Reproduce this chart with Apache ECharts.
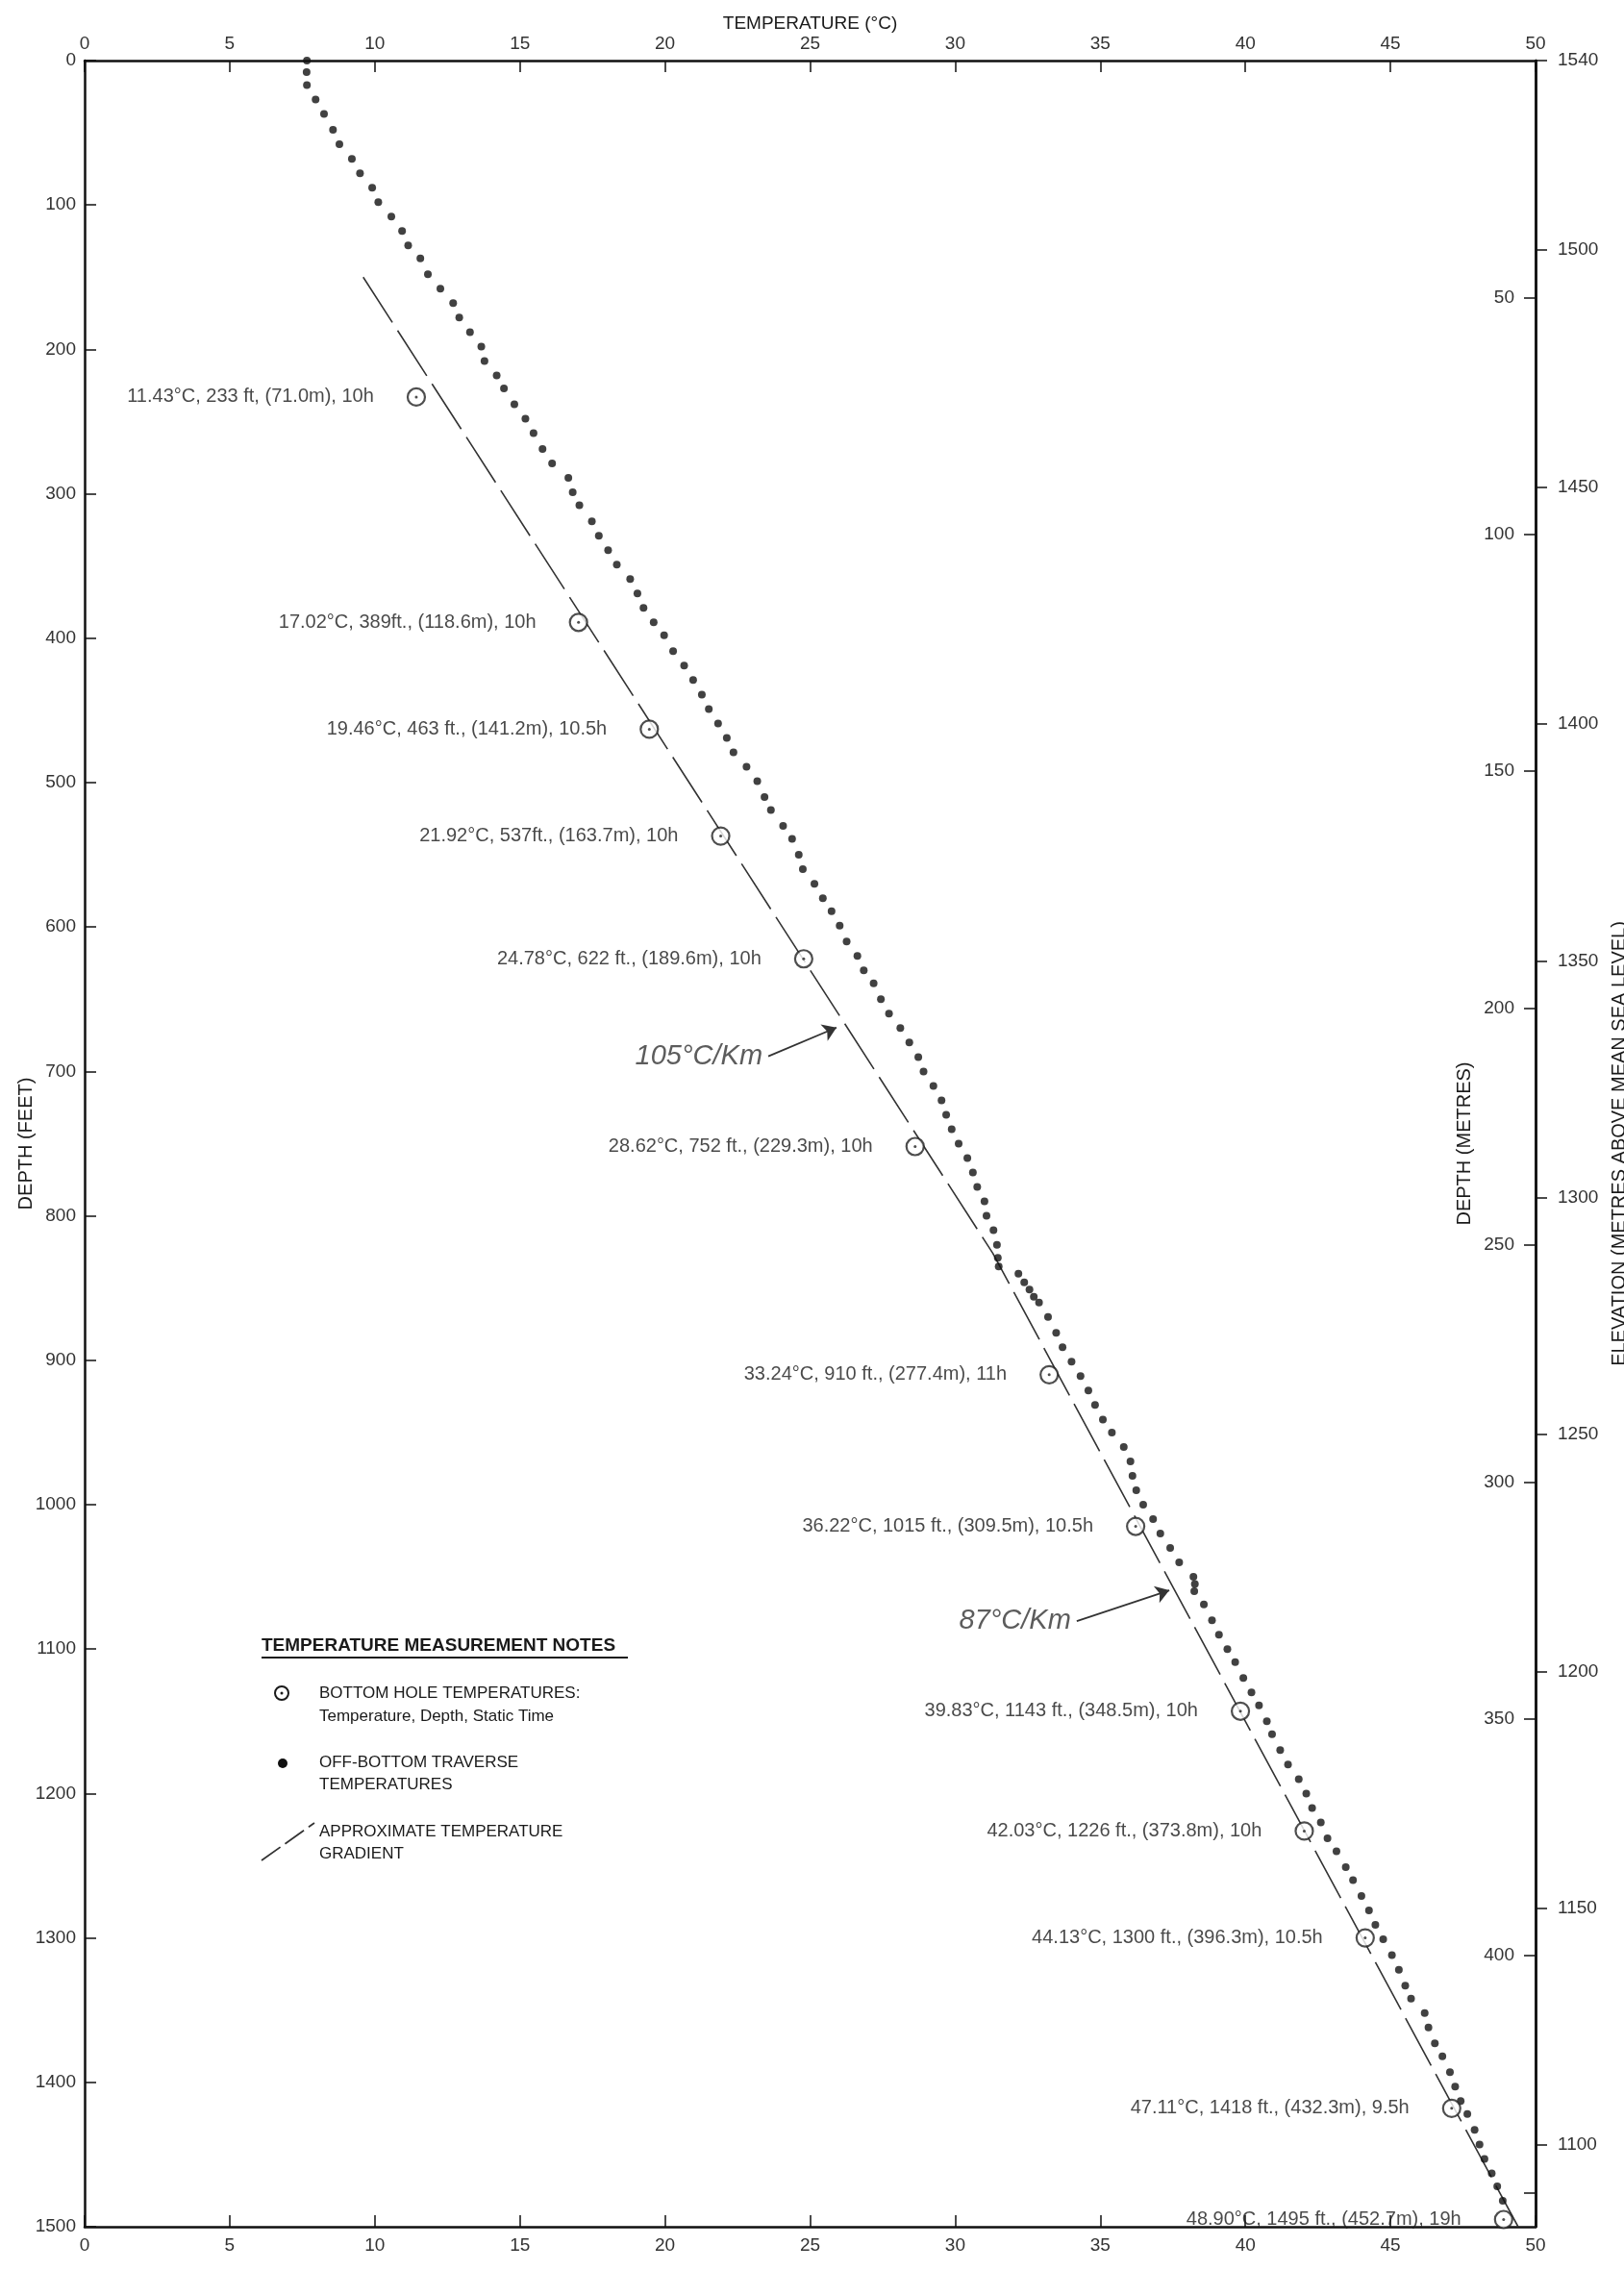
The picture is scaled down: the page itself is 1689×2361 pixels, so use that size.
<!DOCTYPE html>
<html><head><meta charset="utf-8">
<script src="https://cdn.jsdelivr.net/npm/echarts@6/dist/echarts.min.js"></script>
<style>html,body{margin:0;padding:0;background:#fff;overflow:hidden}#c{width:1689px;height:2361px}</style>
</head><body><div id="c"></div>
<script>
// ---------- DATA ----------
const tempRange = [0, 50];
const depthFtRange = [0, 1500];
const surfaceElevation = 1540;
const metreLabelValues = [50, 100, 150, 200, 250, 300, 350, 400];
const metreTickValues = [50, 100, 150, 200, 250, 300, 350, 400, 450];
const elevationValues = [1540, 1500, 1450, 1400, 1350, 1300, 1250, 1200, 1150, 1100];

// Bottom hole temperatures (open circles)
const bhTemp = [11.43, 17.02, 19.46, 21.92, 24.78, 28.62, 33.24, 36.22, 39.83, 42.03, 44.13, 47.11, 48.90];
const bhDepth = [233, 389, 463, 537, 622, 752, 910, 1015, 1143, 1226, 1300, 1418, 1495];
const bhLabels = [
  '11.43°C, 233 ft, (71.0m), 10h',
  '17.02°C, 389ft., (118.6m), 10h',
  '19.46°C, 463 ft., (141.2m), 10.5h',
  '21.92°C, 537ft., (163.7m), 10h',
  '24.78°C, 622 ft., (189.6m), 10h',
  '28.62°C, 752 ft., (229.3m), 10h',
  '33.24°C, 910 ft., (277.4m), 11h',
  '36.22°C, 1015 ft., (309.5m), 10.5h',
  '39.83°C, 1143 ft., (348.5m), 10h',
  '42.03°C, 1226 ft., (373.8m), 10h',
  '44.13°C, 1300 ft., (396.3m), 10.5h',
  '47.11°C, 1418 ft., (432.3m), 9.5h',
  '48.90°C, 1495 ft., (452.7m), 19h'
];

// Off-bottom traverse temperatures (dots)
const travTemp = [
  7.66,7.65,7.66,7.96,8.25,8.56,8.78,9.21,9.49,9.91,10.12,10.57,10.94,11.15,11.57,11.83,12.26,12.70,12.91,13.28,
  13.67,13.78,14.20,14.45,14.81,15.19,15.47,15.78,16.11,16.67,16.82,17.05,17.48,17.72,18.04,18.34,18.80,19.05,19.26,19.61,
  19.97,20.28,20.66,20.97,21.27,21.51,21.83,22.13,22.36,22.81,23.18,23.43,23.65,24.07,24.38,24.61,24.75,25.15,25.44,25.74,
  26.02,26.26,26.63,26.85,27.19,27.44,27.72,28.11,28.42,28.73,28.91,29.25,29.53,29.69,29.88,30.12,30.42,30.61,30.76,31.01,
  31.08,31.32,31.44,31.47,31.50,
  32.18,32.38,32.56,32.71,32.89,33.20,33.48,33.70,34.01,34.32,34.59,34.82,35.09,35.40,35.81,36.04,36.11,36.24,36.48,36.82,
  37.07,37.41,37.72,38.21,38.26,38.24,
  38.57,38.85,39.09,39.38,39.65,39.93,40.21,40.47,40.74,40.92,41.20,41.47,41.84,42.10,42.30,42.60,42.83,43.14,43.46,43.71,
  44.00,44.26,44.48,44.75,45.05,45.29,45.51,45.71,46.18,46.31,46.53,46.79,47.05,47.23,47.42,47.65,47.90,48.07,48.24,48.49,
  48.68,48.87
];
const travDepth = [
  0,8,17,27,37,48,58,68,78,88,98,108,118,128,137,148,158,168,178,188,
  198,208,218,227,238,248,258,269,279,289,299,308,319,329,339,349,359,369,379,389,
  398,409,419,429,439,449,459,469,479,489,499,510,519,530,539,550,560,570,580,589,
  599,610,620,630,639,650,660,670,680,690,700,710,720,730,740,750,760,770,780,790,
  800,810,820,829,835,
  840,846,851,856,860,870,881,891,901,911,921,931,941,950,960,970,980,990,1000,1010,
  1020,1030,1040,1050,1055,1060,
  1069,1080,1090,1100,1109,1120,1130,1139,1150,1159,1170,1180,1190,1200,1210,1220,1231,1240,1251,1260,
  1271,1281,1291,1301,1312,1322,1333,1342,1352,1362,1373,1382,1393,1403,1413,1422,1433,1443,1453,1463,
  1472,1482
];

// Approximate temperature gradient (105 °C/km then 87 °C/km)
const gradTemp = [9.6, 31.3, 49.4];
const gradDepth = [150, 826, 1500];

// Gradient notes with arrows (tail at text, head at line)
const noteText = ['105°C/Km', '87°C/Km'];
const noteTailTemp = [23.56, 34.19];
const noteTailDepth = [689.5, 1080.6];
const noteHeadTemp = [25.91, 37.38];
const noteHeadDepth = [669.6, 1059.3];

// ---------- CHART ----------
const FONT = '"Liberation Sans", Arial, sans-serif';
const INK = '#1a1a1a';
const AXIS = '#111';
const zip = (a, b) => a.map((v, i) => [v, b[i]]);
const plain = v => String(Math.round(v * 100) / 100);

const axisLineStyle = { show: true, onZero: false, lineStyle: { color: AXIS, width: 2.5 } };
const tickLabel = { fontFamily: FONT, fontSize: 19, color: '#333', formatter: plain };
const nameStyleH = { fontFamily: FONT, fontSize: 19, color: INK };
const nameStyleV = { fontFamily: FONT, fontSize: 20, color: INK };
const tickStyle = { color: AXIS, width: 1.5 };

const ftToM = 0.3048;

const chart = echarts.init(document.getElementById('c'));
const option = {
  animation: false,
  backgroundColor: '#fff',
  grid: { left: 88, top: 63, right: 92, bottom: 45, containLabel: false, outerBoundsMode: 'none' },
  xAxis: [
    {
      type: 'value', position: 'top', min: tempRange[0], max: tempRange[1], interval: 5,
      name: 'TEMPERATURE (°C)', nameLocation: 'middle', nameGap: 29, nameTextStyle: nameStyleH, nameMoveOverlap: false,
      axisLine: axisLineStyle,
      axisTick: { show: true, inside: true, length: 12, lineStyle: tickStyle },
      axisLabel: Object.assign({}, tickLabel, { margin: 8 }),
      splitLine: { show: false }
    },
    {
      type: 'value', position: 'bottom', min: tempRange[0], max: tempRange[1], interval: 5,
      axisLine: axisLineStyle,
      axisTick: { show: true, inside: true, length: 12, lineStyle: tickStyle },
      axisLabel: Object.assign({}, tickLabel, { margin: 10 }),
      splitLine: { show: false }
    }
  ],
  yAxis: [
    {
      type: 'value', position: 'left', inverse: true, min: depthFtRange[0], max: depthFtRange[1], interval: 100,
      name: 'DEPTH (FEET)', nameLocation: 'middle', nameRotate: 90, nameGap: 51, nameTextStyle: nameStyleV, nameMoveOverlap: false,
      axisLine: axisLineStyle,
      axisTick: { show: true, inside: true, length: 12, lineStyle: tickStyle },
      axisLabel: Object.assign({}, tickLabel, { margin: 9 }),
      splitLine: { show: false }
    },
    {
      type: 'value', position: 'right', inverse: true, min: 0, max: depthFtRange[1] * ftToM,
      name: 'DEPTH (METRES)', nameLocation: 'middle', nameRotate: 90, nameGap: -84, nameTextStyle: nameStyleV, nameMoveOverlap: false,
      axisLine: axisLineStyle,
      axisTick: { show: true, inside: true, length: 12, customValues: metreTickValues, lineStyle: tickStyle },
      axisLabel: Object.assign({}, tickLabel, { inside: true, margin: 22, customValues: metreLabelValues }),
      splitLine: { show: false }
    },
    {
      type: 'value', position: 'right', min: surfaceElevation - depthFtRange[1] * ftToM, max: surfaceElevation,
      name: 'ELEVATION (METRES ABOVE MEAN SEA LEVEL)', nameLocation: 'middle', nameRotate: 90, nameGap: 77, nameTextStyle: nameStyleV, nameMoveOverlap: false,
      axisLine: axisLineStyle,
      axisTick: { show: true, inside: false, length: 12, customValues: elevationValues, lineStyle: tickStyle },
      axisLabel: Object.assign({}, tickLabel, { margin: 23, customValues: elevationValues }),
      splitLine: { show: false }
    }
  ],
  series: [
    {
      name: 'APPROXIMATE TEMPERATURE GRADIENT', type: 'line', xAxisIndex: 0, yAxisIndex: 0,
      data: zip(gradTemp, gradDepth), symbol: 'none', z: 2,
      lineStyle: { color: '#333', width: 1.6, type: [56, 10] },
      markLine: {
        silent: true, symbol: ['none', 'arrow'], symbolSize: 14,
        label: { show: false },
        lineStyle: { type: 'solid', color: '#333', width: 1.8 },
        data: noteText.map((t, i) => [
          { coord: [noteTailTemp[i], noteTailDepth[i]] },
          { coord: [noteHeadTemp[i], noteHeadDepth[i]] }
        ])
      }
    },
    {
      name: 'OFF-BOTTOM TRAVERSE TEMPERATURES', type: 'scatter', xAxisIndex: 0, yAxisIndex: 0,
      data: zip(travTemp, travDepth), symbol: 'circle', symbolSize: 8, z: 3,
      itemStyle: { color: '#111' }
    },
    {
      name: 'BOTTOM HOLE TEMPERATURES', type: 'scatter', xAxisIndex: 0, yAxisIndex: 0,
      data: zip(bhTemp, bhDepth), symbol: 'circle', symbolSize: 18, z: 4,
      itemStyle: { color: '#fff', borderColor: '#222', borderWidth: 2.2 },
      label: {
        show: true, position: 'left', distance: 34,
        formatter: p => bhLabels[p.dataIndex],
        fontFamily: FONT, fontSize: 20, color: INK
      }
    },
    {
      name: 'centre', type: 'scatter', xAxisIndex: 0, yAxisIndex: 0, silent: true,
      data: zip(bhTemp, bhDepth), symbol: 'circle', symbolSize: 3, z: 5,
      itemStyle: { color: '#222' }
    },
    {
      name: 'notes', type: 'scatter', xAxisIndex: 0, yAxisIndex: 0, silent: true,
      data: zip(noteTailTemp, noteTailDepth), symbolSize: 0, z: 5,
      label: {
        show: true, position: 'left', distance: 6,
        formatter: p => noteText[p.dataIndex],
        fontFamily: FONT, fontStyle: 'italic', fontSize: 29, color: '#333'
      }
    }
  ],
  graphic: [
    { type: 'text', x: 272, y: 1712, style: { text: 'TEMPERATURE MEASUREMENT NOTES', font: 'bold 19px ' + FONT, fill: INK, verticalAlign: 'middle' } },
    { type: 'line', shape: { x1: 272, y1: 1724, x2: 653, y2: 1724 }, style: { stroke: INK, lineWidth: 2 } },
    { type: 'circle', shape: { cx: 293, cy: 1761, r: 7 }, style: { fill: '#fff', stroke: INK, lineWidth: 2 } },
    { type: 'circle', shape: { cx: 293, cy: 1761, r: 1.5 }, style: { fill: INK } },
    { type: 'text', x: 332, y: 1761, style: { text: 'BOTTOM HOLE TEMPERATURES:', font: '17px ' + FONT, fill: INK, verticalAlign: 'middle' } },
    { type: 'text', x: 332, y: 1785, style: { text: 'Temperature, Depth, Static Time', font: '17px ' + FONT, fill: INK, verticalAlign: 'middle' } },
    { type: 'circle', shape: { cx: 294, cy: 1834, r: 5 }, style: { fill: '#111' } },
    { type: 'text', x: 332, y: 1833, style: { text: 'OFF-BOTTOM TRAVERSE', font: '17px ' + FONT, fill: INK, verticalAlign: 'middle' } },
    { type: 'text', x: 332, y: 1856, style: { text: 'TEMPERATURES', font: '17px ' + FONT, fill: INK, verticalAlign: 'middle' } },
    { type: 'line', shape: { x1: 272, y1: 1935, x2: 327, y2: 1896 }, style: { stroke: '#333', lineWidth: 1.8, lineDash: [24, 6] } },
    { type: 'text', x: 332, y: 1905, style: { text: 'APPROXIMATE TEMPERATURE', font: '17px ' + FONT, fill: INK, verticalAlign: 'middle' } },
    { type: 'text', x: 332, y: 1928, style: { text: 'GRADIENT', font: '17px ' + FONT, fill: INK, verticalAlign: 'middle' } }
  ]
};
chart.setOption(option);
</script>
</body></html>
